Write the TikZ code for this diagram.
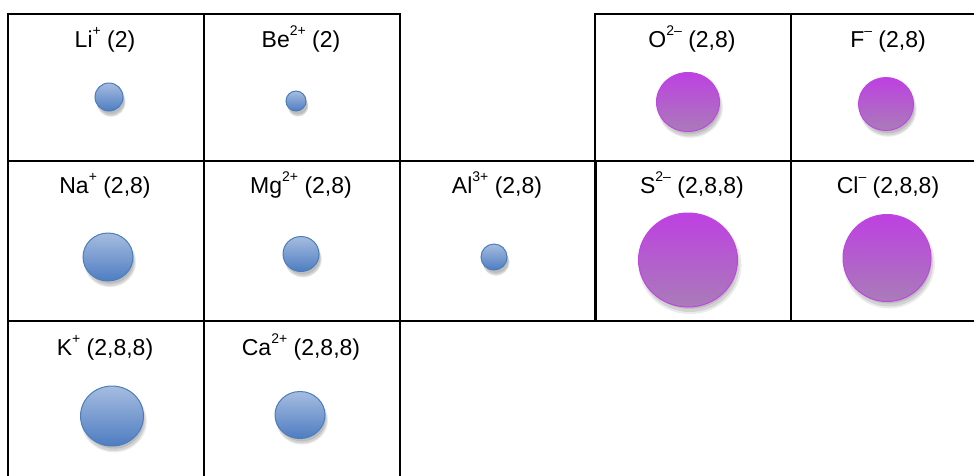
\documentclass[tikz,border=0pt]{standalone}
\usepackage{fontspec}
\setmainfont{Liberation Sans}
\usepackage{tikz}
\usetikzlibrary{
  shapes.geometric,
  positioning,
  shadows
}
\definecolor{ionPosTop}{HTML}{A6BCE0}
\definecolor{ionPosBot}{HTML}{4E7DC1}
\definecolor{ionPosLine}{HTML}{4A7EBB}
\definecolor{ionNegTop}{HTML}{BE40E2}
\definecolor{ionNegBot}{HTML}{A97CB8}
\definecolor{ionNegLine}{HTML}{C046E4}
\newcommand{\ionsup}[1]{\raisebox{0.52em}{\fontsize{14}{14}\selectfont #1}}
\tikzset{
  cell/.style={draw=black, line width=2pt, anchor=north west, inner sep=0pt,
    minimum width=196pt, minimum height=147pt},
  tallcell/.style={cell, minimum height=160pt},
  ionlabel/.style={anchor=base, font=\fontsize{23}{27}\selectfont, inner sep=0pt},
  ion/.style={ellipse, inner sep=0pt, line width=1pt,
    drop shadow={shadow xshift=2pt, shadow yshift=-5pt, shadow scale=1.04, opacity=0.08, fill=black},
    drop shadow={shadow xshift=2pt, shadow yshift=-5pt, opacity=0.1, fill=black},
    drop shadow={shadow xshift=2pt, shadow yshift=-4pt, shadow scale=0.96, opacity=0.1, fill=black}},
  cation/.style={ion, draw=ionPosLine, top color=ionPosTop, bottom color=ionPosBot},
  anion/.style={ion, draw=ionNegLine, top color=ionNegTop, bottom color=ionNegBot}
}

\begin{document}
\begin{tikzpicture}[x=1pt, y=-1pt]
  \useasboundingbox (0,0) rectangle (974,475);
  \clip (0,0) rectangle (974,475);
  % grid
  \node[cell] (cLi) at (7,13) {};
  \node[cell] (cBe) at (203,13) {};
  \node[cell] (cO) at (594,13) {};
  \node[cell] (cF) at (790,13) {};
  \node[tallcell] (cNa) at (7,160) {};
  \node[tallcell] (cMg) at (203,160) {};
  \node[tallcell] (cAl) at (399,160) {};
  \node[tallcell] (cS) at (594,160) {};
  \node[tallcell] (cCl) at (790,160) {};
  \node[tallcell] (cK) at (7,320) {};
  \node[tallcell] (cCa) at (203,320) {};
  % labels
  \node[ionlabel] (lLi) at (105,47) {Li\ionsup{+} (2)};
  \node[ionlabel] (lBe) at (301,47) {Be\ionsup{2+} (2)};
  \node[ionlabel] (lO) at (692,47) {O\ionsup{2–} (2,8)};
  \node[ionlabel] (lF) at (888,47) {F\ionsup{–} (2,8)};
  \node[ionlabel] (lNa) at (105,193) {Na\ionsup{+} (2,8)};
  \node[ionlabel] (lMg) at (301,193) {Mg\ionsup{2+} (2,8)};
  \node[ionlabel] (lAl) at (497,193) {Al\ionsup{3+} (2,8)};
  \node[ionlabel] (lS) at (692,193) {S\ionsup{2–} (2,8,8)};
  \node[ionlabel] (lCl) at (888,193) {Cl\ionsup{–} (2,8,8)};
  \node[ionlabel] (lK) at (105,355) {K\ionsup{+} (2,8,8)};
  \node[ionlabel] (lCa) at (301,355) {Ca\ionsup{2+} (2,8,8)};
  % ions
  \node[cation, minimum width=28pt, minimum height=28pt] (Li) at (109,97) {};
  \node[cation, minimum width=20pt, minimum height=20pt] (Be) at (296,101) {};
  \node[anion, minimum width=63pt, minimum height=59pt] (O) at (688,102) {};
  \node[anion, minimum width=55pt, minimum height=53pt] (F) at (886,104) {};
  \node[cation, minimum width=50pt, minimum height=48pt] (Na) at (108,257) {};
  \node[cation, minimum width=36pt, minimum height=35pt] (Mg) at (301,254) {};
  \node[cation, minimum width=26pt, minimum height=26pt] (Al) at (494,257) {};
  \node[anion, minimum width=99pt, minimum height=94pt] (S) at (688,260) {};
  \node[anion, minimum width=88pt, minimum height=87pt] (Cl) at (887,258) {};
  \node[cation, minimum width=63pt, minimum height=60pt] (K) at (112,416) {};
  \node[cation, minimum width=50pt, minimum height=47pt] (Ca) at (300,415) {};
\end{tikzpicture}
\end{document}
